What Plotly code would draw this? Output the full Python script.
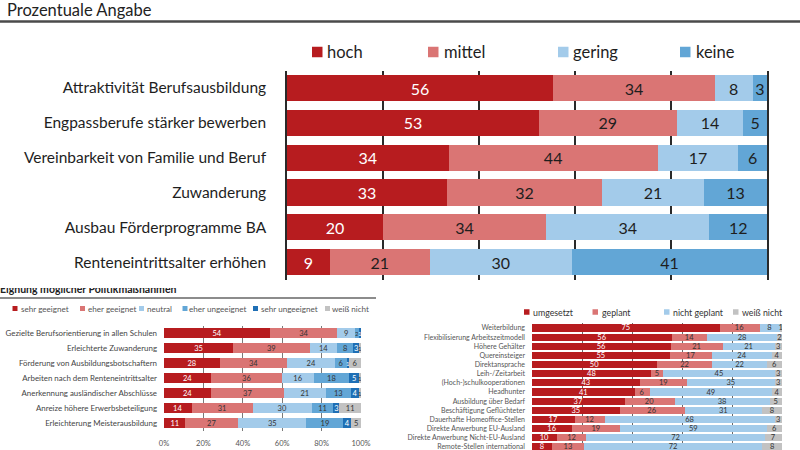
import plotly.graph_objects as go

# ---------------- data ----------------
main_title = "Prozentuale Angabe"
main_categories = [
    "Attraktivität Berufsausbildung",
    "Engpassberufe stärker bewerben",
    "Vereinbarkeit von Familie und Beruf",
    "Zuwanderung",
    "Ausbau Förderprogramme BA",
    "Renteneintrittsalter erhöhen",
]
main_series = ["hoch", "mittel", "gering", "keine"]
hoch = [56, 53, 34, 33, 20, 9]
mittel = [34, 29, 44, 32, 34, 21]
gering = [8, 14, 17, 21, 34, 30]
keine = [3, 5, 6, 13, 12, 41]

left_title = "Eignung möglicher Politikmaßnahmen"
left_categories = [
    "Gezielte Berufsorientierung in allen Schulen",
    "Erleichterte Zuwanderung",
    "Förderung von Ausbildungsbotschaftern",
    "Arbeiten nach dem Renteneintrittsalter",
    "Anerkennung ausländischer Abschlüsse",
    "Anreize höhere Erwerbsbeteiligung",
    "Erleichterung Meisterausbildung",
]
left_series = ["sehr geeignet", "eher geeignet", "neutral", "eher ungeeignet", "sehr ungeeignet", "weiß nicht"]
sehr_geeignet = [54, 35, 28, 24, 24, 14, 11]
eher_geeignet = [34, 39, 34, 36, 37, 31, 27]
neutral = [9, 14, 24, 16, 21, 30, 35]
eher_ungeeignet = [2, 8, 6, 18, 13, 11, 19]
sehr_ungeeignet = [1, 3, 1, 5, 4, 3, 4]
weiss_nicht_l = [0, 1, 6, 1, 1, 11, 5]
left_ticks = [0, 20, 40, 60, 80, 100]

right_categories = [
    "Weiterbildung",
    "Flexibilisierung Arbeitszeitmodell",
    "Höhere Gehälter",
    "Quereinsteiger",
    "Direktansprache",
    "Leih-/Zeitarbeit",
    "(Hoch-)schulkooperationen",
    "Headhunter",
    "Ausbildung über Bedarf",
    "Beschäftigung Geflüchteter",
    "Dauerhafte Homeoffice-Stellen",
    "Direkte Anwerbung EU-Ausland",
    "Direkte Anwerbung Nicht-EU-Ausland",
    "Remote-Stellen international",
]
right_series = ["umgesetzt", "geplant", "nicht geplant", "weiß nicht"]
umgesetzt = [75, 56, 56, 55, 50, 48, 43, 41, 37, 35, 17, 16, 10, 8]
geplant = [16, 14, 21, 17, 22, 5, 19, 6, 20, 26, 12, 19, 12, 13]
nicht_geplant = [8, 28, 21, 24, 22, 45, 35, 49, 38, 31, 68, 59, 72, 72]
weiss_nicht_r = [1, 2, 3, 4, 6, 3, 3, 4, 5, 8, 3, 6, 7, 8]

# ---------------- styles ----------------
W, H = 800, 450
FONT = "Lato"
RED = "#B71C1F"
LRED = "#DA7574"
LBLUE = "#A3CBEA"
MBLUE = "#62A6D6"
DBLUE = "#1F6FB5"
GREY = "#C2C2C2"
DARK = "#1E1E1E"


def fx(px):
    return px / W


def fy(py):
    return 1 - py / H


def labels(vals):
    return [str(v) if v > 0 else "" for v in vals]


fig = go.Figure()


def add_group(cats, series_vals, names, colors, textcolors, xa, ya, width, tsize, small=None):
    for vals, name, col, tcol in zip(series_vals, names, colors, textcolors):
        sizes = [small if (small and v <= 2) else tsize for v in vals]
        fig.add_trace(go.Bar(
            y=cats, x=vals, name=name, orientation="h",
            marker=dict(color=col, line=dict(width=0)),
            text=labels(vals), texttemplate="%{text}",
            textposition="inside", insidetextanchor="middle",
            constraintext="none", textangle=0,
            insidetextfont=dict(family=FONT, size=sizes, color=tcol),
            width=width, xaxis=xa, yaxis=ya, showlegend=False,
            hovertemplate=name + ": %{text}<extra>%{y}</extra>",
        ))


add_group(main_categories, [hoch, mittel, gering, keine], main_series,
          [RED, LRED, LBLUE, MBLUE], ["white", DARK, DARK, DARK], "x", "y", 0.75, 16)
add_group(left_categories,
          [sehr_geeignet, eher_geeignet, neutral, eher_ungeeignet, sehr_ungeeignet, weiss_nicht_l],
          left_series, [RED, LRED, LBLUE, MBLUE, DBLUE, GREY],
          ["white", "#333", "#333", "#333", "white", "#333"], "x2", "y2", 0.64, 7.5, small=6)
add_group(right_categories, [umgesetzt, geplant, nicht_geplant, weiss_nicht_r], right_series,
          [RED, LRED, LBLUE, GREY], ["white", "#333", "#333", "#333"], "x3", "y3", 0.78, 7.5)

# clipped (partly hidden) title of the lower-left panel
fig.add_trace(go.Scatter(
    x=[0], y=[0.8], mode="text", text=["<b>" + left_title + "</b>"],
    textposition="middle right", textfont=dict(family=FONT, size=10.5, color="#222"),
    cliponaxis=True, xaxis="x4", yaxis="y4", showlegend=False, hoverinfo="skip",
))

fig.update_layout(
    width=W, height=H, margin=dict(l=0, r=0, t=0, b=0, autoexpand=False),
    paper_bgcolor="white", plot_bgcolor="white",
    barmode="stack", barnorm="percent",
    font=dict(family=FONT, color=DARK),
    xaxis=dict(domain=[fx(287), fx(767)], range=[0, 100], dtick=20, showticklabels=False,
               showgrid=True, gridcolor="#2a2a2a", gridwidth=1.5, zeroline=False,
               anchor="y", fixedrange=True),
    yaxis=dict(domain=[fy(279.6), fy(70.6)], range=[5.5, -0.5], showline=True, mirror=True,
               linecolor="#2a2a2a", linewidth=1.5, ticks="", ticklabelstandoff=16,
               tickfont=dict(family=FONT, size=15.5, color=DARK), showgrid=False,
               anchor="x", fixedrange=True),
    xaxis2=dict(domain=[fx(164), fx(361)], range=[0, 100], tickvals=left_ticks,
                ticktext=[f"{t}%" for t in left_ticks], ticks="outside", ticklen=5,
                tickcolor="rgba(0,0,0,0)", tickfont=dict(family=FONT, size=7.5, color="#555"),
                showgrid=True, gridcolor="#7a7a7a", gridwidth=1, zeroline=False,
                anchor="y2", fixedrange=True),
    yaxis2=dict(domain=[fy(430.5), fy(325.5)], range=[6.5, -0.5], ticks="", ticklabelstandoff=6,
                tickfont=dict(family=FONT, size=7.9, color="#444"), showgrid=False,
                anchor="x2", fixedrange=True),
    xaxis3=dict(domain=[fx(532), fx(782)], range=[0, 100], dtick=20, showticklabels=False,
                showgrid=True, gridcolor="#6a6a6a", gridwidth=1, zeroline=False,
                anchor="y3", fixedrange=True),
    yaxis3=dict(domain=[0, fy(323.4)], range=[13.34, -0.5], ticks="", ticklabelstandoff=6,
                tickfont=dict(family=FONT, size=7, color="#555"), showgrid=False,
                anchor="x3", fixedrange=True),
    xaxis4=dict(domain=[0, 0.5], range=[0, 1], visible=False, anchor="y4", fixedrange=True),
    yaxis4=dict(domain=[fy(300), fy(288)], range=[0, 1], visible=False, anchor="x4", fixedrange=True),
)

shapes = [
    dict(type="line", xref="paper", yref="paper", x0=0, x1=1, y0=fy(21.5), y1=fy(21.5),
         line=dict(color="#4a4a4a", width=2.5)),
    dict(type="line", xref="paper", yref="paper", x0=0, x1=fx(376), y0=fy(298), y1=fy(298),
         line=dict(color="#666", width=1.5)),
]
annotations = [
    dict(text=main_title, xref="paper", yref="paper", x=fx(5), y=fy(10), xanchor="left",
         yanchor="middle", showarrow=False, font=dict(family=FONT, size=16.5, color="#222")),
]


def legend(names, colors, sq_x, txt_x, yc, sq, fsize, fcolor):
    for n, c, sx, tx in zip(names, colors, sq_x, txt_x):
        shapes.append(dict(type="rect", xref="paper", yref="paper", x0=fx(sx), x1=fx(sx + sq),
                           y0=fy(yc + sq / 2), y1=fy(yc - sq / 2), fillcolor=c, line=dict(width=0)))
        annotations.append(dict(text=n, xref="paper", yref="paper", x=fx(tx), y=fy(yc),
                                xanchor="left", yanchor="middle", showarrow=False,
                                font=dict(family=FONT, size=fsize, color=fcolor)))


legend(main_series, [RED, LRED, LBLUE, MBLUE], [312, 428, 558, 680], [325, 442, 571, 694],
       52, 10.5, 16.5, DARK)
legend(left_series, [RED, LRED, LBLUE, MBLUE, DBLUE, GREY],
       [12.5, 80, 139, 182.5, 253, 325], [18.5, 85.5, 145, 187, 258.5, 330], 308.5, 5, 8.1, "#555")
legend(right_series, [RED, LRED, LBLUE, GREY], [524, 592.5, 664, 733], [531, 600, 671, 739.5],
       312, 5.5, 8.8, "#333")

fig.update_layout(shapes=shapes, annotations=annotations)
fig.write_html("out.html")
